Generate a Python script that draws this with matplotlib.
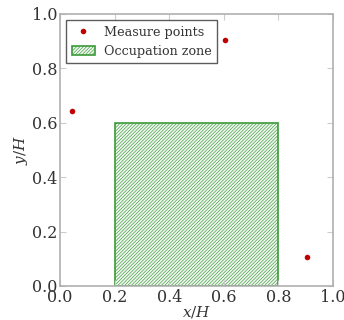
import matplotlib
matplotlib.use("Agg")
import matplotlib.pyplot as plt
from matplotlib.patches import Rectangle

plt.rcParams['font.family'] = 'DejaVu Serif'
plt.rcParams['mathtext.fontset'] = 'dejavuserif'
plt.rcParams['hatch.color'] = '#a6d1a6'
plt.rcParams['hatch.linewidth'] = 0.45

# measure points
px = [0.045, 0.605, 0.905]
py = [0.645, 0.905, 0.105]

# occupation zone
zone_x = [0.2, 0.8]
zone_y = [0.0, 0.6]

ticks = [0.0, 0.2, 0.4, 0.6, 0.8, 1.0]

fig = plt.figure(figsize=(3.44, 3.2), dpi=100)
ax = fig.add_axes([60 / 344, 1 - 286 / 320, 273 / 344, 272 / 320])

ax.plot(px, py, 'o', color='#c00000', markersize=4, markeredgewidth=0,
        label='Measure points')
zone = Rectangle((zone_x[0], zone_y[0]), zone_x[1] - zone_x[0], zone_y[1] - zone_y[0],
                 facecolor='#f0f7f0', edgecolor='#3a9a3a', linewidth=1.2,
                 hatch='/' * 10, label='Occupation zone')
ax.add_patch(zone)

ax.set_xlim(0, 1)
ax.set_ylim(0, 1)
ax.set_xticks(ticks)
ax.set_yticks(ticks)
ax.tick_params(labelsize=11.5, direction='in', color='#cccccc', top=True, right=True,
               length=4, pad=2, labelcolor='#333333')
for s in ax.spines.values():
    s.set_color('#b0b0b0')
    s.set_linewidth(1.2)

ax.set_xlabel('$x/H$', fontsize=11, color='#333333', labelpad=-1)
ax.set_ylabel('$y/H$', fontsize=11, color='#333333', labelpad=1)

leg = ax.legend(loc='upper left', numpoints=1, fontsize=9.2, fancybox=False,
                bbox_to_anchor=(6 / 273, 1 - 6 / 272), borderaxespad=0,
                handlelength=1.8, handletextpad=0.7,
                borderpad=0.45, labelspacing=0.45)
leg.get_frame().set_edgecolor('#333333')
leg.get_frame().set_linewidth(1.0)
for t in leg.get_texts():
    t.set_color('#333333')

fig.savefig('out.png', dpi=100)
